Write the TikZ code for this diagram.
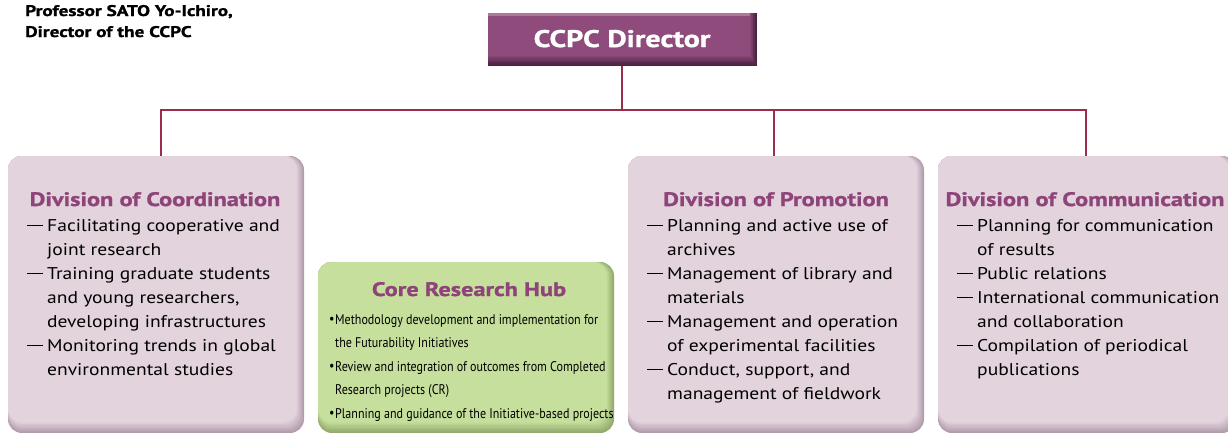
\documentclass[tikz,border=0pt]{standalone}
\usepackage{fontspec}
\setmainfont{PT Sans}[FakeStretch=1.15]
\newfontfamily\condfont{PT Sans}[FakeStretch=0.86]
\newfontfamily\headfont{PT Sans}[FakeStretch=1.25,BoldFeatures={FakeBold=1.2}]
\definecolor{dirfill}{HTML}{8F4B7B}
\definecolor{dirdark}{HTML}{4A2140}
\definecolor{divfill}{HTML}{E2D3DD}
\definecolor{divdark}{HTML}{B29CAC}
\definecolor{hubfill}{HTML}{C6DF9C}
\definecolor{hubdark}{HTML}{93AA6C}
\definecolor{titlecol}{HTML}{8E4479}
\definecolor{linecol}{HTML}{9B2D4B}
\tikzset{
  x=1pt,y=-1pt,
  conn/.style={draw=linecol,line width=1.4pt},
  divtitle/.style={text=titlecol,anchor=base,inner sep=0pt,font=\headfont\fontsize{19.5}{24}\selectfont\bfseries},
  items/.style={anchor=base west,inner sep=0pt,font=\fontsize{17}{24}\selectfont},
  hubitems/.style={anchor=base west,inner sep=0pt,font=\condfont\fontsize{14}{23.5}\selectfont},
}
% bevelled box: x1 y1 x2 y2 light dark radius
\newcommand{\bevelbox}[7]{%
  \foreach \i in {0,...,8}{%
    \pgfmathsetmacro{\pc}{\i*100/8}%
    \fill[#5!\pc!#6,rounded corners=#7] (#1,#2) rectangle ({#3-\i*0.9},{#4-\i*1.3});
  }%
}
\newcommand{\itm}[1]{\makebox[20pt][l]{\rule[4.6pt]{16pt}{1.1pt}}#1}
\newcommand{\cnt}[1]{\hspace*{20pt}#1}
\newcommand{\bul}[1]{\makebox[6pt][l]{\raisebox{0.3pt}{•}}#1}
\newcommand{\bcn}[1]{\hspace*{6pt}#1}
\newenvironment{lines}{\begin{tabular}[t]{@{}l@{}}}{\end{tabular}}
\begin{document}
\begin{tikzpicture}
\useasboundingbox (0,0) rectangle (1228,432);
\fill[white] (0,0) rectangle (1228,432);
% boxes
\bevelbox{8}{156}{304}{433}{divfill}{divdark}{14pt}
\bevelbox{318}{262}{614}{433}{hubfill}{hubdark}{14pt}
\bevelbox{628}{156}{924}{433}{divfill}{divdark}{14pt}
\bevelbox{938}{156}{1236}{433}{divfill}{divdark}{14pt}
\path (161,156) coordinate (coordtop) (774,156) coordinate (promtop) (1086,156) coordinate (commtop);
% director
\bevelbox{488}{13}{757}{66}{dirfill}{dirdark}{0pt}
\fill[white,opacity=0.25] (488,13) rectangle (750,16);
\node[inner sep=0pt,minimum width=268pt,minimum height=53pt] (dir) at (622,39.5) {};
\node[anchor=base,inner sep=0pt,text=white,font=\headfont\fontsize{24}{28}\selectfont\bfseries] (dirtext) at (622,47) {CCPC Director};
% connectors
\coordinate (junc) at (622,110);
\coordinate (jl) at (161,110);
\coordinate (jr) at (1086,110);
\coordinate (jm) at (774,110);
\draw[conn] (dir.south) -- (junc);
\draw[conn] (coordtop) -- (jl) -- (jr) -- (commtop);
\draw[conn] (jm) -- (promtop);
% professor
\node[anchor=base west,inner sep=0pt,font=\headfont\fontsize{15.4}{21}\selectfont\bfseries] (prof) at (25,16)
  {\begin{lines}Professor SATO Yo-Ichiro,\\Director of the CCPC\end{lines}};
% Coordination
\node[divtitle] (t1) at (155,206) {Division of Coordination};
\node[items] (i1) at (27,231) {\begin{lines}
\itm{Facilitating cooperative and}\\
\cnt{joint research}\\
\itm{Training graduate students}\\
\cnt{and young researchers,}\\
\cnt{developing infrastructures}\\
\itm{Monitoring trends in global}\\
\cnt{environmental studies}\end{lines}};
% Hub
\node[divtitle] (t2) at (469,296) {Core Research Hub};
\node[hubitems] (i2) at (329,324) {\begin{lines}
\bul{Methodology development and implementation for}\\
\bcn{the Futurability Initiatives}\\
\bul{Review and integration of outcomes from Completed}\\
\bcn{Research projects (CR)}\\
\bul{Planning and guidance of the Initiative-based projects}\end{lines}};
% Promotion
\node[divtitle] (t3) at (776,206) {Division of Promotion};
\node[items] (i3) at (647,231) {\begin{lines}
\itm{Planning and active use of}\\
\cnt{archives}\\
\itm{Management of library and}\\
\cnt{materials}\\
\itm{Management and operation}\\
\cnt{of experimental facilities}\\
\itm{Conduct, support, and}\\
\cnt{management of fieldwork}\end{lines}};
% Communication
\node[divtitle] (t4) at (1085,206) {Division of Communication};
\node[items] (i4) at (957,231) {\begin{lines}
\itm{Planning for communication}\\
\cnt{of results}\\
\itm{Public relations}\\
\itm{International communication}\\
\cnt{and collaboration}\\
\itm{Compilation of periodical}\\
\cnt{publications}\end{lines}};
\end{tikzpicture}
\end{document}
